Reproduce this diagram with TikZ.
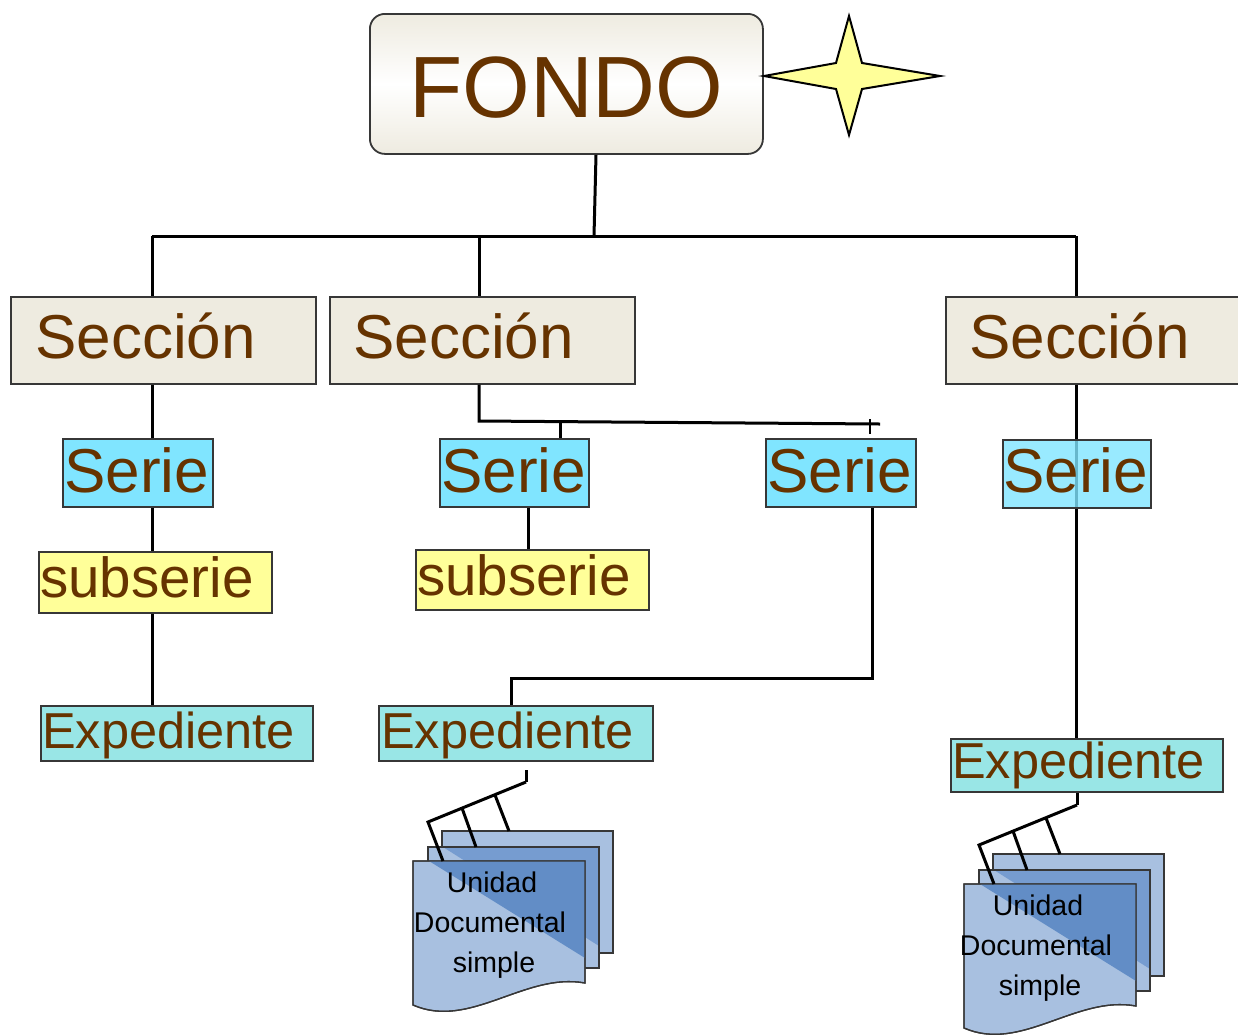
\documentclass[tikz,border=0pt]{standalone}
\usepackage{fontspec}
\setmainfont{Liberation Sans}
\definecolor{brownc}{RGB}{102,51,0}
\definecolor{secfill}{RGB}{238,235,224}
\definecolor{serfill}{RGB}{128,229,255}
\definecolor{subfill}{RGB}{255,255,153}
\definecolor{expfill}{RGB}{153,230,230}
\definecolor{pagelight}{RGB}{168,192,224}
\definecolor{pagedark}{RGB}{98,141,198}
\definecolor{pagemid}{RGB}{118,156,208}
\definecolor{edgec}{RGB}{55,55,55}
\newcommand\docstack[3]{%
  \begin{scope}[shift={#2}]
    % back page
    \draw[page] (442,831) rectangle (613,953);
    % middle page
    \draw[page] (428,847) rectangle (599,968);
    \fill[pagemid] (443,847) -- (599,847) -- (599,946) -- cycle;
    \draw[pageedge] (428,847) rectangle (599,968);
    % front page
    \draw[page] (413,861) -- (585,861) -- (585,983) .. controls (525,972) and (470,1030) .. (413,1005) -- cycle;
    \fill[pagedark] (429,861) -- (585,861) -- (585,958) -- cycle;
    \draw[pageedge] (413,861) -- (585,861) -- (585,983) .. controls (525,972) and (470,1030) .. (413,1005) -- cycle;
    % binding lines
    \coordinate (#1d1) at (526,782);
    \coordinate (#1d2) at (428,822);
    \coordinate (#1d3) at (443,861);
    \coordinate (#1b1) at (462,808);
    \coordinate (#1b1e) at (476,847);
    \coordinate (#1b2) at (495,795);
    \coordinate (#1b2e) at (509,831);
    \draw[conn] (#1d1) -- (#1d2) -- (#1d3);
    \draw[conn] (#1b1) -- (#1b1e);
    \draw[conn] (#1b2) -- (#1b2e);
    \node[doctext] (#1t1) at (492+#3,892) {Unidad};
    \node[doctext] (#1t2) at (490+#3,932) {Documental};
    \node[doctext] (#1t3) at (494+#3,972) {simple};
  \end{scope}}
\begin{document}
\begin{tikzpicture}[x=1pt,y=-1pt,
  conn/.style={line width=3pt, black},
  box/.style={draw=edgec, line width=1.5pt, inner sep=0pt, anchor=north west},
  lbl/.style={text=brownc, anchor=base west, inner sep=0pt},
  big/.style={font=\fontsize{62}{62}\selectfont},
  mid/.style={font=\fontsize{56.5}{56.5}\selectfont},
  small/.style={font=\fontsize{50.5}{50.5}\selectfont},
  page/.style={fill=pagelight, draw=edgec, line width=1.3pt},
  pageedge/.style={draw=edgec, line width=1.3pt},
  doctext/.style={font=\fontsize{28.5}{28.5}\selectfont, anchor=base, inner sep=0pt, text=black}]
\useasboundingbox (0,0) rectangle (1238,1034);
\fill[white] (0,0) rectangle (1238,1034);

% coordinates
\coordinate (xL) at (152,0);
\coordinate (xM) at (479,0);
\coordinate (xR) at (1076,0);
\coordinate (xF) at (596,0);
\coordinate (x528) at (528,0);
\coordinate (hub) at (594,236);
\coordinate (mA) at (479,421);
\coordinate (mB) at (880,424);
\coordinate (x560) at (560,0);
\coordinate (tA) at (870,419);
\coordinate (tB) at (870,434);
\coordinate (xS) at (872,0);
\coordinate (bend) at (511,678);
\coordinate (ld0) at (526,770);

% FONDO
\node[box, rounded corners=15pt, line width=1.8pt, minimum width=393pt, minimum height=140pt,
      top color=secfill, bottom color=secfill, middle color=white] (fondo) at (369,13) {};
\node[lbl, font=\fontsize{87}{87}\selectfont] (fondot) at (409,117) {FONDO};

% star
\draw[fill=subfill, line width=2pt, line join=miter]
  (849,16) -- (862,63) -- (940,76) -- (862,89) -- (849,135) -- (836,89) -- (764,76) -- (836,63) -- cycle;

% connectors top
\draw[conn] (fondo.south -| xF) -- (hub);
\draw[conn] (xL |- hub) -- (xR |- hub);

% sections
\node[box, fill=secfill, minimum width=305pt, minimum height=87pt] (sec1) at (10,296) {};
\node[box, fill=secfill, minimum width=305pt, minimum height=87pt] (sec2) at (329,296) {};
\node[box, fill=secfill, minimum width=310pt, minimum height=87pt] (sec3) at (945,296) {};
\draw[conn] (sec1.north -| xL) -- (xL |- hub);
\draw[conn] (sec2.north -| xM) -- (xM |- hub);
\draw[conn] (sec3.north -| xR) -- (xR |- hub);
\node[lbl, big] (sec1t) at (35,358) {Sección};
\node[lbl, big] (sec2t) at (353,358) {Sección};
\node[lbl, big] (sec3t) at (969,358) {Sección};

% series
\node[box, fill=serfill, minimum width=150pt, minimum height=68pt] (ser1) at (62,438) {};
\node[box, fill=serfill, minimum width=149pt, minimum height=68pt] (ser2) at (439,438) {};
\node[box, fill=serfill, minimum width=150pt, minimum height=68pt] (ser3) at (765,438) {};

% subseries
\node[box, fill=subfill, minimum width=233pt, minimum height=61pt] (sub1) at (38,551) {};
\node[box, fill=subfill, minimum width=233pt, minimum height=60pt] (sub2) at (415,549) {};

% expedientes
\node[box, fill=expfill, minimum width=272pt, minimum height=55pt] (exp1) at (40,705) {};
\node[box, fill=expfill, minimum width=274pt, minimum height=55pt] (exp2) at (378,705) {};
\node[box, fill=expfill, minimum width=272pt, minimum height=53pt] (exp3) at (950,738) {};

% left branch
\draw[conn] (sec1.south -| xL) -- (ser1.north -| xL);
\draw[conn] (ser1.south -| xL) -- (sub1.north -| xL);
\draw[conn] (sub1.south -| xL) -- (exp1.north -| xL);

% middle branch
\draw[conn] (sec2.south -| xM) -- (mA) -- (mB);
\draw[conn] (x560 |- mA) -- (ser2.north -| x560);
\draw[line width=1.6pt] (tA) -- (tB);
\draw[conn] (ser2.south -| x528) -- (sub2.north -| x528);
\draw[conn] (ser3.south -| xS) |- (bend) -- (exp2.north -| bend);

% right branch
\draw[conn] (sec3.south -| xR) -- (exp3.north -| xR);
\node[box, fill=serfill, fill opacity=0.8, minimum width=148pt, minimum height=68pt] (ser4) at (1002,439) {};

% labels
\node[lbl, big] (ser1t) at (64,492) {Serie};
\node[lbl, big] (ser2t) at (441,492) {Serie};
\node[lbl, big] (ser3t) at (767,492) {Serie};
\node[lbl, big] (ser4t) at (1003,492) {Serie};
\node[lbl, mid] (sub1t) at (40,597) {subserie};
\node[lbl, mid] (sub2t) at (417,595) {subserie};
\node[lbl, small] (exp1t) at (42,748) {Expediente};
\node[lbl, small] (exp2t) at (381,748) {Expediente};
\node[lbl, small] (exp3t) at (952,778) {Expediente};

% document stacks
\docstack{L}{(0,0)}{0}
\docstack{R}{(551,23)}{-5}
\draw[conn] (ld0) -- (Ld1);
\draw[conn] (exp3.south -| Rd1) -- (Rd1);
\end{tikzpicture}
\end{document}
